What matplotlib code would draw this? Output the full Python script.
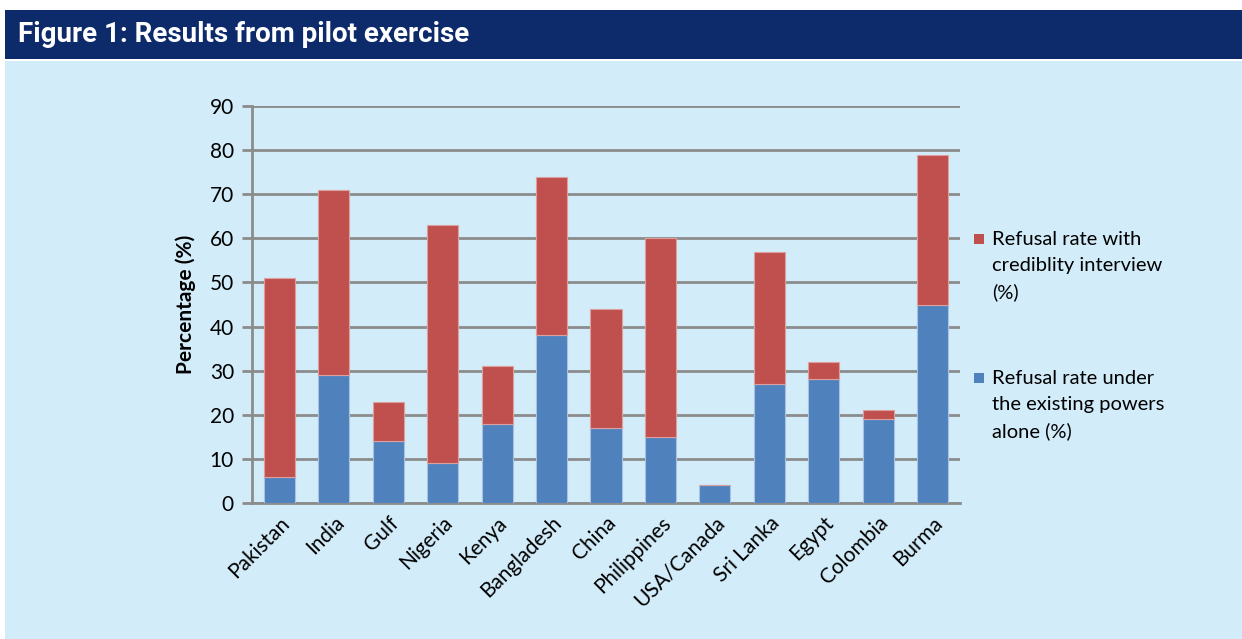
import numpy as np
import matplotlib.pyplot as plt
from matplotlib.patches import Rectangle

countries = ['Pakistan', 'India', 'Gulf', 'Nigeria', 'Kenya', 'Bangladesh', 'China',
             'Philippines', 'USA/Canada', 'Sri Lanka', 'Egypt', 'Colombia', 'Burma']
# refusal rate under existing powers alone (%)
existing = [6, 29, 14, 9, 18, 38, 17, 15, 4, 27, 28, 19, 45]
# refusal rate once the credibility interview is added (%), top of each stack
with_interview = [51, 71, 23, 63, 31, 74, 44, 60, 4, 57, 32, 21, 79]

extra = [t - e for t, e in zip(with_interview, existing)]

BLUE = '#4F81BD'
RED = '#C0504D'
BG = '#D2ECF9'
HEADER = '#0D2B6B'
GRID = '#8C8C8C'

plt.rcParams['font.family'] = ['Lato', 'DejaVu Sans']

fig = plt.figure(figsize=(12.42, 6.39), dpi=100)
fig.patch.set_facecolor('white')

# page panels: dark title band and light blue body
fig.patches.append(Rectangle((5 / 1242, 1 - 59 / 639), 1 - 5 / 1242, 49 / 639,
                             transform=fig.transFigure, facecolor=HEADER,
                             edgecolor='none', zorder=-10))
fig.patches.append(Rectangle((5 / 1242, 0), 1 - 5 / 1242, 1 - 61 / 639,
                             transform=fig.transFigure, facecolor=BG,
                             edgecolor='none', zorder=-10))
fig.text(18 / 1242, 1 - 35 / 639, 'Figure 1: Results from pilot exercise',
         color='white', fontsize=20, fontweight='bold', va='center', ha='left',
         family=['Liberation Sans Narrow', 'Roboto', 'DejaVu Sans'])

ax = fig.add_axes([252 / 1242, 1 - 503 / 639, 708 / 1242, 397 / 639])
ax.set_zorder(5)
ax.set_facecolor(BG)

x = np.arange(len(countries))
w = 0.57
ax.bar(x, existing, w, color=BLUE, edgecolor='#A7C2E3', linewidth=0.8, zorder=3)
ax.bar(x, extra, w, bottom=existing, color=RED, edgecolor='#DDA09E', linewidth=0.8,
       zorder=3)

ax.set_xlim(-0.5, len(countries) - 0.5)
ax.set_ylim(0, 90)
ax.set_yticks(range(0, 91, 10))
ax.yaxis.grid(True, color=GRID, linewidth=2, zorder=0)
ax.set_axisbelow(True)

for s in ['top', 'right']:
    ax.spines[s].set_visible(False)
ax.spines['left'].set_color(GRID)
ax.spines['left'].set_linewidth(2)
ax.spines['bottom'].set_color(GRID)
ax.spines['bottom'].set_linewidth(2)

ax.tick_params(axis='y', length=7, width=2, color=GRID, labelsize=15, pad=6)
ax.tick_params(axis='x', length=0, labelsize=15, pad=7)
ax.set_xticks(x)
ax.set_xticklabels(countries, rotation=45, ha='right', rotation_mode='anchor')

ax.set_ylabel('Percentage (%)', fontsize=15, fontweight='bold', labelpad=10)

# legend: swatch next to the first line of each wrapped label
legend_items = [
    (RED, 'Refusal rate with\ncrediblity interview\n(%)', 239),
    (BLUE, 'Refusal rate under\nthe existing powers\nalone (%)', 378),
]
for col, text, ytop in legend_items:
    fig.patches.append(Rectangle((974 / 1242, 1 - (ytop + 5) / 639), 10 / 1242, 10 / 639,
                                 transform=fig.transFigure, facecolor=col,
                                 edgecolor='none', zorder=6))
    fig.text(992 / 1242, 1 - (ytop - 8) / 639, text, fontsize=14.5,
             va='top', ha='left', linespacing=1.62, zorder=6)

fig.savefig('out.png', dpi=100, facecolor=fig.get_facecolor())
